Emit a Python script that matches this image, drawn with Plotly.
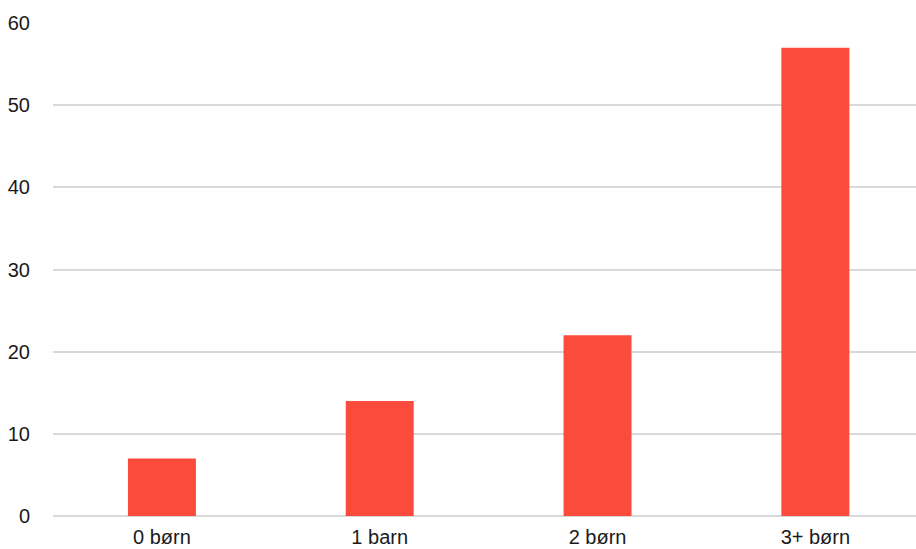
import plotly.graph_objects as go

categories = ["0 børn", "1 barn", "2 børn", "3+ børn"]
values = [7, 14, 22, 57]
y_ticks = [0, 10, 20, 30, 40, 50, 60]

fig = go.Figure(go.Bar(x=categories, y=values, marker=dict(color="#FA4B3C", line=dict(width=0))))

fig.update_layout(
    width=916, height=549,
    margin=dict(l=53, r=0, t=23, b=33),
    plot_bgcolor="white", paper_bgcolor="white",
    bargap=0.688,
    showlegend=False,
    font=dict(family="Liberation Sans, Arial, sans-serif", size=20, color="#1a1a1a"),
)
fig.update_xaxes(
    range=[-0.5, 3.462], showgrid=False, zeroline=False, showline=False,
    ticks="outside", ticklen=3, tickcolor="rgba(0,0,0,0)", automargin=False,
)
fig.update_yaxes(
    range=[0, 60], tickvals=y_ticks, showgrid=True, gridcolor="#D9D9D9", gridwidth=1.5,
    zeroline=True, zerolinecolor="#D9D9D9", zerolinewidth=1.5, showline=False,
    ticks="outside", ticklen=18, tickcolor="rgba(0,0,0,0)", automargin=False,
)

fig.write_html(
    "out.html",
    config={"displayModeBar": False},
    post_script="document.body.style.margin='0';document.body.style.overflow='hidden';",
)
